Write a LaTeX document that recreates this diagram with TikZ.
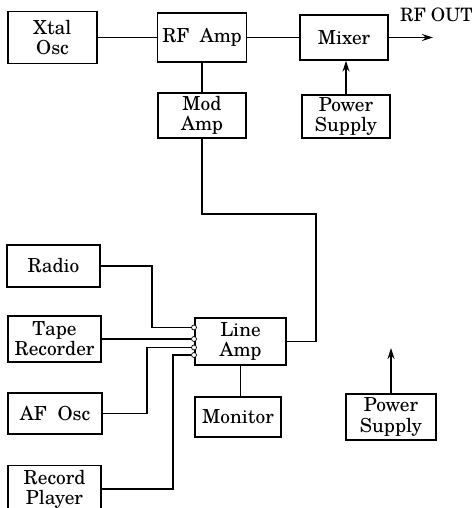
\documentclass[tikz,border=0pt]{standalone}
\usepackage{fontspec}
\setmainfont{TeX Gyre Schola}
\usetikzlibrary{arrows.meta}
\tikzset{
  unit/.style={draw, thick, align=center, inner sep=1pt,
    font=\fontsize{11}{11.5}\selectfont},
  wire/.style={semithick},
  feed/.style={-{Stealth[length=2.2mm, width=1.4mm]}, semithick},
  jack/.style={draw, circle, fill=white, inner sep=0pt, minimum size=0.1cm, thin}
}
\begin{document}
\begin{tikzpicture}
    \useasboundingbox (0,0) rectangle (9.44,-10.16);
    %% transmitter chain
    \node[unit, minimum width=1.78cm, minimum height=1.04cm] (xtal)   at (1.05,-0.75) {Xtal\\Osc};
    \node[unit, minimum width=1.78cm, minimum height=0.98cm] (rfamp)  at (4.04,-0.75) {RF\ \ Amp};
    \node[unit, minimum width=1.76cm, minimum height=0.90cm] (mixer)  at (6.88,-0.75) {Mixer};
    \node[unit, minimum width=1.76cm, minimum height=0.90cm] (modamp) at (4.04,-2.31) {Mod\\Amp};
    \node[unit, minimum width=1.76cm, minimum height=0.86cm] (psa)    at (6.92,-2.33) {Power\\Supply};
    %% audio sources
    \node[unit, minimum width=1.86cm, minimum height=0.84cm] (radio)  at (1.07,-5.32) {Radio};
    \node[unit, minimum width=1.86cm, minimum height=0.92cm] (tape)   at (1.09,-6.78) {Tape\\Recorder};
    \node[unit, minimum width=1.88cm, minimum height=0.82cm] (afosc)  at (1.10,-8.27) {AF\ \ Osc};
    \node[unit, minimum width=1.86cm, minimum height=0.94cm] (record) at (1.09,-9.78) {Record\\Player};
    \node[unit, minimum width=1.82cm, minimum height=0.94cm] (lineamp) at (4.81,-6.83) {Line\\Amp};
    \node[unit, minimum width=1.72cm, minimum height=0.80cm] (monitor) at (4.76,-8.34) {Monitor};
    \node[unit, minimum width=1.80cm, minimum height=0.92cm] (psb)    at (7.82,-8.34) {Power\\Supply};
    %% input jacks on the line amp
    \node[jack] (j1) at (3.88,-6.55) {};
    \node[jack] (j2) at (3.88,-6.78) {};
    \node[jack] (j3) at (3.88,-6.95) {};
    \node[jack] (j4) at (3.88,-7.10) {};
    \coordinate (rbend)  at (3.04,-6.55);
    \coordinate (abend)  at (2.94,-6.95);
    \coordinate (pbend)  at (3.46,-7.10);
    \coordinate (mbend)  at (6.32,-4.28);
    \coordinate (rfout)  at (8.66,-0.75);
    \coordinate (psbout) at (7.82,-6.96);
    \draw[wire] (xtal) -- (rfamp);
    \draw[wire] (rfamp) -- (mixer);
    \draw[feed] (mixer) -- (rfout);
    \node[anchor=base west, font=\fontsize{10.5}{10.5}\selectfont] (rflabel) at (7.88,-0.42) {RF OUT};
    \draw[wire] (rfamp) -- (modamp);
    \draw[feed] (psa.north) -- (psa.north |- mixer.south);
    \draw[wire] (modamp.south) |- (mbend) |- (lineamp.east);
    \draw[wire] (radio.east) -| (rbend) -- (j1.west);
    \draw[wire] (tape.east) -- (j2.west);
    \draw[wire] (afosc.east) -| (abend) -- (j3.west);
    \draw[wire] (record.east) -| (pbend) -- (j4.west);
    \draw[wire] (lineamp.south |- monitor.north) -- (lineamp.south);
    \draw[feed] (psb.north) -- (psbout);
\end{tikzpicture}
\end{document}
